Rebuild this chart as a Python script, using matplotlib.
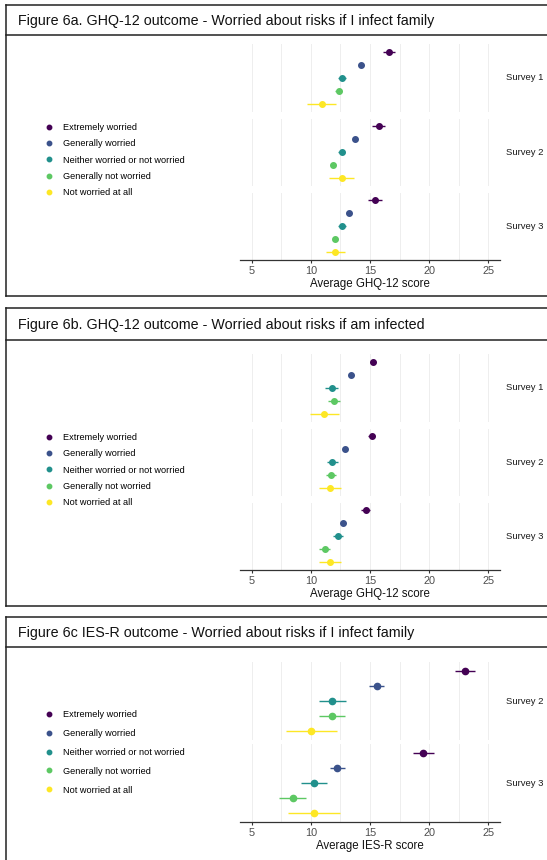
import numpy as np
import matplotlib
matplotlib.use('Agg')
import matplotlib.pyplot as plt
from matplotlib.lines import Line2D

plt.rcParams['font.family'] = ['Liberation Sans', 'DejaVu Sans']

levels = ['Extremely worried', 'Generally worried', 'Neither worried or not worried',
          'Generally not worried', 'Not worried at all']
colours = ['#440154', '#3B528B', '#21908C', '#5DC863', '#FDE725']

# 6a: GHQ-12, worried about risks if I infect family (mean, 95% CI half width)
fam_s1 = [16.62, 14.25, 12.62, 12.36, 10.90]
fam_s1_ci = [0.50, 0.20, 0.35, 0.30, 1.22]
fam_s2 = [15.75, 13.72, 12.59, 11.91, 12.62]
fam_s2_ci = [0.55, 0.20, 0.30, 0.25, 1.05]
fam_s3 = [15.44, 13.21, 12.65, 12.08, 12.08]
fam_s3_ci = [0.57, 0.20, 0.35, 0.25, 0.80]

# 6b: GHQ-12, worried about risks if am infected
inf_s1 = [15.27, 13.42, 11.76, 11.93, 11.14]
inf_s1_ci = [0.25, 0.20, 0.53, 0.50, 1.20]
inf_s2 = [15.13, 12.88, 11.82, 11.70, 11.59]
inf_s2_ci = [0.30, 0.20, 0.50, 0.45, 0.93]
inf_s3 = [14.62, 12.74, 12.29, 11.17, 11.62]
inf_s3_ci = [0.35, 0.20, 0.45, 0.45, 0.93]

# 6c: IES-R, worried about risks if I infect family
ies_s2 = [23.05, 15.56, 11.80, 11.80, 10.04]
ies_s2_ci = [0.82, 0.62, 1.15, 1.10, 2.17]
ies_s3 = [19.51, 12.24, 10.26, 8.45, 10.26]
ies_s3_ci = [0.87, 0.62, 1.11, 1.15, 2.23]

W, H = 547, 860
fig = plt.figure(figsize=(W / 100, H / 100), dpi=100)


def px_axes(left, top, right, bottom):
    return fig.add_axes([left / W, 1 - bottom / H, (right - left) / W, (bottom - top) / H])


def hline(x0, x1, y):
    fig.add_artist(Line2D([x0 / W, x1 / W], [1 - y / H, 1 - y / H],
                          transform=fig.transFigure, color='#222222', lw=1.1))


def vline(x, y0, y1):
    fig.add_artist(Line2D([x / W, x / W], [1 - y0 / H, 1 - y1 / H],
                          transform=fig.transFigure, color='#222222', lw=1.1))


def panel(title, top, divider, bottom, facet_tops, facet_h, surveys, means, cis,
          xlabel, ms, leg_top, leg_space):
    # boxes around title and plot
    hline(6, 560, top)
    hline(6, 560, divider)
    if bottom is not None:
        hline(6, 560, bottom)
    vline(6, top, bottom if bottom is not None else 870)
    fig.text(18 / W, 1 - ((top + divider) / 2 + 1.5) / H, title,
             fontsize=10.3, va='center', ha='left', color='#111111')

    ypos = np.arange(1, len(levels) + 1)
    axes = []
    for k, (ft, name) in enumerate(zip(facet_tops, surveys)):
        ax = px_axes(240, ft, 500, ft + facet_h)
        for i in range(len(levels)):
            ax.errorbar(means[k][i], ypos[i], xerr=cis[k][i], fmt='o', color=colours[i],
                        ms=ms, elinewidth=1.0, capsize=0, zorder=3)
        ax.set_xlim(4, 26)
        ax.set_ylim(5.6, 0.4)
        ax.set_xticks([5, 10, 15, 20, 25])
        ax.set_xticks([7.5, 12.5, 17.5, 22.5], minor=True)
        ax.grid(axis='x', which='both', color='#EEEEEE', lw=0.7)
        ax.set_axisbelow(True)
        ax.set_yticks([])
        for s in ax.spines.values():
            s.set_visible(False)
        ax.tick_params(axis='x', which='both', length=0, labelbottom=False)
        ax.annotate(name, xy=(1, 0.5), xycoords='axes fraction', xytext=(6, 0),
                    textcoords='offset pixels', va='center', ha='left',
                    fontsize=6.8, color='#1A1A1A', annotation_clip=False)
        axes.append(ax)

    ax = axes[-1]
    ax.spines['bottom'].set_visible(True)
    ax.spines['bottom'].set_color('#333333')
    ax.spines['bottom'].set_linewidth(0.9)
    ax.tick_params(axis='x', which='major', length=2.5, color='#333333',
                   labelbottom=True, labelsize=7.8, labelcolor='#4D4D4D', pad=2)
    ax.set_xticklabels(['5', '10', '15', '20', '25'])
    ax.set_xlabel(xlabel, fontsize=8.3, color='#111111', labelpad=1.5)

    handles = [Line2D([], [], marker='o', ls='', color=c, ms=3.2) for c in colours]
    fig.legend(handles, levels, loc='upper left', frameon=False,
               bbox_to_anchor=(44.5 / W, 1 - leg_top / H), borderpad=0, borderaxespad=0,
               fontsize=6.6, handlelength=1.0, handletextpad=1.0, labelspacing=leg_space)


panel('Figure 6a. GHQ-12 outcome - Worried about risks if I infect family',
      4.5, 35, 295.5, [44, 118.5, 192.5], 67.5, ['Survey 1', 'Survey 2', 'Survey 3'],
      [fam_s1, fam_s2, fam_s3], [fam_s1_ci, fam_s2_ci, fam_s3_ci],
      'Average GHQ-12 score', 4.0, 123, 0.8)

panel('Figure 6b. GHQ-12 outcome - Worried about risks if am infected',
      308, 340, 606, [354, 428.5, 502.5], 67.5, ['Survey 1', 'Survey 2', 'Survey 3'],
      [inf_s1, inf_s2, inf_s3], [inf_s1_ci, inf_s2_ci, inf_s3_ci],
      'Average GHQ-12 score', 4.0, 433, 0.8)

panel('Figure 6c IES-R outcome - Worried about risks if I infect family',
      617, 647, None, [662, 744], 78, ['Survey 2', 'Survey 3'],
      [ies_s2, ies_s3], [ies_s2_ci, ies_s3_ci],
      'Average IES-R score', 4.5, 710, 1.08)

fig.savefig('out.png', dpi=100)
